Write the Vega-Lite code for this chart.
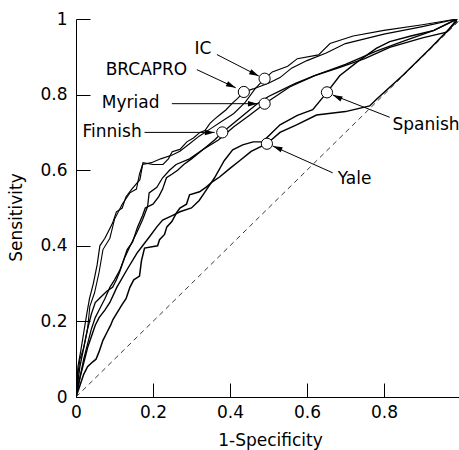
{
  "$schema": "https://vega.github.io/schema/vega-lite/v6.json",
  "width": 383,
  "height": 378,
  "autosize": "none",
  "padding": {"left": 76, "top": 19, "right": 0, "bottom": 53},
  "config": {
    "view": {"stroke": null},
    "font": "DejaVu Sans",
    "axis": {
      "domainColor": "black", "domainWidth": 1, "tickColor": "black", "tickWidth": 1, "tickSize": -14,
      "labelFont": "DejaVu Sans", "labelFontSize": 17, "labelColor": "black",
      "titleFont": "DejaVu Sans", "titleFontSize": 17, "titleFontWeight": "normal", "titleColor": "black",
      "grid": false
    }
  },
  "datasets": {
    "curves": [
      {"m":"IC","x":0,"y":0},{"m":"IC","x":0.005,"y":0.06},{"m":"IC","x":0.01,"y":0.1},{"m":"IC","x":0.02,"y":0.13},{"m":"IC","x":0.03,"y":0.18},{"m":"IC","x":0.036,"y":0.24},{"m":"IC","x":0.048,"y":0.275},{"m":"IC","x":0.06,"y":0.33},{"m":"IC","x":0.07,"y":0.39},{"m":"IC","x":0.088,"y":0.42},{"m":"IC","x":0.1,"y":0.47},{"m":"IC","x":0.12,"y":0.51},{"m":"IC","x":0.14,"y":0.54},{"m":"IC","x":0.157,"y":0.55},{"m":"IC","x":0.165,"y":0.59},{"m":"IC","x":0.173,"y":0.615},{"m":"IC","x":0.196,"y":0.62},{"m":"IC","x":0.22,"y":0.63},{"m":"IC","x":0.25,"y":0.64},{"m":"IC","x":0.27,"y":0.65},{"m":"IC","x":0.295,"y":0.67},{"m":"IC","x":0.32,"y":0.69},{"m":"IC","x":0.35,"y":0.71},{"m":"IC","x":0.38,"y":0.73},{"m":"IC","x":0.41,"y":0.75},{"m":"IC","x":0.44,"y":0.78},{"m":"IC","x":0.465,"y":0.815},{"m":"IC","x":0.49,"y":0.842},{"m":"IC","x":0.51,"y":0.86},{"m":"IC","x":0.55,"y":0.875},{"m":"IC","x":0.575,"y":0.895},{"m":"IC","x":0.63,"y":0.905},{"m":"IC","x":0.66,"y":0.935},{"m":"IC","x":0.72,"y":0.955},{"m":"IC","x":0.8,"y":0.97},{"m":"IC","x":0.9,"y":0.985},{"m":"IC","x":0.99,"y":1},
      {"m":"BRCAPRO","x":0,"y":0},{"m":"BRCAPRO","x":0.005,"y":0.08},{"m":"BRCAPRO","x":0.012,"y":0.12},{"m":"BRCAPRO","x":0.02,"y":0.17},{"m":"BRCAPRO","x":0.028,"y":0.22},{"m":"BRCAPRO","x":0.035,"y":0.26},{"m":"BRCAPRO","x":0.045,"y":0.3},{"m":"BRCAPRO","x":0.055,"y":0.35},{"m":"BRCAPRO","x":0.062,"y":0.4},{"m":"BRCAPRO","x":0.075,"y":0.42},{"m":"BRCAPRO","x":0.085,"y":0.44},{"m":"BRCAPRO","x":0.095,"y":0.46},{"m":"BRCAPRO","x":0.105,"y":0.49},{"m":"BRCAPRO","x":0.12,"y":0.5},{"m":"BRCAPRO","x":0.13,"y":0.53},{"m":"BRCAPRO","x":0.145,"y":0.55},{"m":"BRCAPRO","x":0.166,"y":0.575},{"m":"BRCAPRO","x":0.174,"y":0.62},{"m":"BRCAPRO","x":0.2,"y":0.615},{"m":"BRCAPRO","x":0.226,"y":0.615},{"m":"BRCAPRO","x":0.24,"y":0.63},{"m":"BRCAPRO","x":0.25,"y":0.649},{"m":"BRCAPRO","x":0.27,"y":0.655},{"m":"BRCAPRO","x":0.288,"y":0.675},{"m":"BRCAPRO","x":0.305,"y":0.685},{"m":"BRCAPRO","x":0.322,"y":0.7},{"m":"BRCAPRO","x":0.335,"y":0.705},{"m":"BRCAPRO","x":0.348,"y":0.724},{"m":"BRCAPRO","x":0.36,"y":0.735},{"m":"BRCAPRO","x":0.373,"y":0.746},{"m":"BRCAPRO","x":0.39,"y":0.76},{"m":"BRCAPRO","x":0.407,"y":0.778},{"m":"BRCAPRO","x":0.42,"y":0.79},{"m":"BRCAPRO","x":0.436,"y":0.807},{"m":"BRCAPRO","x":0.46,"y":0.815},{"m":"BRCAPRO","x":0.5,"y":0.83},{"m":"BRCAPRO","x":0.53,"y":0.845},{"m":"BRCAPRO","x":0.56,"y":0.87},{"m":"BRCAPRO","x":0.6,"y":0.89},{"m":"BRCAPRO","x":0.65,"y":0.91},{"m":"BRCAPRO","x":0.7,"y":0.935},{"m":"BRCAPRO","x":0.8,"y":0.96},{"m":"BRCAPRO","x":0.9,"y":0.98},{"m":"BRCAPRO","x":0.99,"y":1},
      {"m":"Myriad","x":0,"y":0},{"m":"Myriad","x":0.01,"y":0.05},{"m":"Myriad","x":0.02,"y":0.1},{"m":"Myriad","x":0.03,"y":0.14},{"m":"Myriad","x":0.04,"y":0.18},{"m":"Myriad","x":0.05,"y":0.21},{"m":"Myriad","x":0.06,"y":0.23},{"m":"Myriad","x":0.075,"y":0.26},{"m":"Myriad","x":0.088,"y":0.29},{"m":"Myriad","x":0.1,"y":0.31},{"m":"Myriad","x":0.114,"y":0.336},{"m":"Myriad","x":0.127,"y":0.37},{"m":"Myriad","x":0.14,"y":0.398},{"m":"Myriad","x":0.158,"y":0.435},{"m":"Myriad","x":0.173,"y":0.469},{"m":"Myriad","x":0.186,"y":0.504},{"m":"Myriad","x":0.19,"y":0.54},{"m":"Myriad","x":0.21,"y":0.555},{"m":"Myriad","x":0.225,"y":0.58},{"m":"Myriad","x":0.243,"y":0.6},{"m":"Myriad","x":0.26,"y":0.615},{"m":"Myriad","x":0.295,"y":0.63},{"m":"Myriad","x":0.33,"y":0.655},{"m":"Myriad","x":0.37,"y":0.68},{"m":"Myriad","x":0.41,"y":0.715},{"m":"Myriad","x":0.45,"y":0.745},{"m":"Myriad","x":0.49,"y":0.776},{"m":"Myriad","x":0.555,"y":0.82},{"m":"Myriad","x":0.62,"y":0.85},{"m":"Myriad","x":0.7,"y":0.88},{"m":"Myriad","x":0.78,"y":0.915},{"m":"Myriad","x":0.86,"y":0.945},{"m":"Myriad","x":0.93,"y":0.97},{"m":"Myriad","x":0.99,"y":1},
      {"m":"Finnish","x":0,"y":0},{"m":"Finnish","x":0.005,"y":0.04},{"m":"Finnish","x":0.01,"y":0.08},{"m":"Finnish","x":0.02,"y":0.13},{"m":"Finnish","x":0.03,"y":0.18},{"m":"Finnish","x":0.04,"y":0.22},{"m":"Finnish","x":0.05,"y":0.25},{"m":"Finnish","x":0.06,"y":0.26},{"m":"Finnish","x":0.07,"y":0.27},{"m":"Finnish","x":0.08,"y":0.28},{"m":"Finnish","x":0.095,"y":0.29},{"m":"Finnish","x":0.105,"y":0.31},{"m":"Finnish","x":0.113,"y":0.33},{"m":"Finnish","x":0.123,"y":0.36},{"m":"Finnish","x":0.133,"y":0.39},{"m":"Finnish","x":0.147,"y":0.41},{"m":"Finnish","x":0.16,"y":0.45},{"m":"Finnish","x":0.173,"y":0.48},{"m":"Finnish","x":0.18,"y":0.5},{"m":"Finnish","x":0.2,"y":0.51},{"m":"Finnish","x":0.215,"y":0.53},{"m":"Finnish","x":0.225,"y":0.55},{"m":"Finnish","x":0.235,"y":0.58},{"m":"Finnish","x":0.25,"y":0.59},{"m":"Finnish","x":0.264,"y":0.6},{"m":"Finnish","x":0.28,"y":0.615},{"m":"Finnish","x":0.3,"y":0.63},{"m":"Finnish","x":0.33,"y":0.655},{"m":"Finnish","x":0.36,"y":0.68},{"m":"Finnish","x":0.38,"y":0.7},{"m":"Finnish","x":0.41,"y":0.725},{"m":"Finnish","x":0.44,"y":0.75},{"m":"Finnish","x":0.47,"y":0.775},{"m":"Finnish","x":0.5,"y":0.795},{"m":"Finnish","x":0.53,"y":0.81},{"m":"Finnish","x":0.57,"y":0.83},{"m":"Finnish","x":0.62,"y":0.85},{"m":"Finnish","x":0.68,"y":0.87},{"m":"Finnish","x":0.75,"y":0.895},{"m":"Finnish","x":0.815,"y":0.925},{"m":"Finnish","x":0.9,"y":0.95},{"m":"Finnish","x":0.963,"y":0.965},{"m":"Finnish","x":0.99,"y":1},
      {"m":"Spanish","x":0,"y":0},{"m":"Spanish","x":0.01,"y":0.05},{"m":"Spanish","x":0.02,"y":0.09},{"m":"Spanish","x":0.03,"y":0.13},{"m":"Spanish","x":0.04,"y":0.16},{"m":"Spanish","x":0.05,"y":0.19},{"m":"Spanish","x":0.06,"y":0.21},{"m":"Spanish","x":0.075,"y":0.23},{"m":"Spanish","x":0.088,"y":0.25},{"m":"Spanish","x":0.106,"y":0.29},{"m":"Spanish","x":0.132,"y":0.336},{"m":"Spanish","x":0.158,"y":0.38},{"m":"Spanish","x":0.173,"y":0.4},{"m":"Spanish","x":0.191,"y":0.424},{"m":"Spanish","x":0.21,"y":0.45},{"m":"Spanish","x":0.225,"y":0.468},{"m":"Spanish","x":0.25,"y":0.48},{"m":"Spanish","x":0.27,"y":0.49},{"m":"Spanish","x":0.3,"y":0.5},{"m":"Spanish","x":0.32,"y":0.52},{"m":"Spanish","x":0.34,"y":0.55},{"m":"Spanish","x":0.36,"y":0.58},{"m":"Spanish","x":0.385,"y":0.625},{"m":"Spanish","x":0.407,"y":0.654},{"m":"Spanish","x":0.433,"y":0.667},{"m":"Spanish","x":0.46,"y":0.675},{"m":"Spanish","x":0.485,"y":0.675},{"m":"Spanish","x":0.53,"y":0.72},{"m":"Spanish","x":0.575,"y":0.745},{"m":"Spanish","x":0.615,"y":0.76},{"m":"Spanish","x":0.652,"y":0.806},{"m":"Spanish","x":0.685,"y":0.85},{"m":"Spanish","x":0.73,"y":0.886},{"m":"Spanish","x":0.78,"y":0.922},{"m":"Spanish","x":0.815,"y":0.94},{"m":"Spanish","x":0.87,"y":0.955},{"m":"Spanish","x":0.93,"y":0.97},{"m":"Spanish","x":0.99,"y":1},
      {"m":"Yale","x":0,"y":0},{"m":"Yale","x":0.01,"y":0.03},{"m":"Yale","x":0.02,"y":0.06},{"m":"Yale","x":0.03,"y":0.08},{"m":"Yale","x":0.04,"y":0.09},{"m":"Yale","x":0.052,"y":0.1},{"m":"Yale","x":0.06,"y":0.12},{"m":"Yale","x":0.07,"y":0.15},{"m":"Yale","x":0.08,"y":0.17},{"m":"Yale","x":0.09,"y":0.19},{"m":"Yale","x":0.096,"y":0.205},{"m":"Yale","x":0.105,"y":0.22},{"m":"Yale","x":0.12,"y":0.245},{"m":"Yale","x":0.13,"y":0.26},{"m":"Yale","x":0.14,"y":0.29},{"m":"Yale","x":0.15,"y":0.31},{"m":"Yale","x":0.165,"y":0.32},{"m":"Yale","x":0.17,"y":0.36},{"m":"Yale","x":0.178,"y":0.394},{"m":"Yale","x":0.212,"y":0.4},{"m":"Yale","x":0.217,"y":0.416},{"m":"Yale","x":0.23,"y":0.43},{"m":"Yale","x":0.236,"y":0.45},{"m":"Yale","x":0.249,"y":0.464},{"m":"Yale","x":0.261,"y":0.487},{"m":"Yale","x":0.27,"y":0.5},{"m":"Yale","x":0.287,"y":0.51},{"m":"Yale","x":0.295,"y":0.535},{"m":"Yale","x":0.321,"y":0.543},{"m":"Yale","x":0.339,"y":0.556},{"m":"Yale","x":0.355,"y":0.57},{"m":"Yale","x":0.373,"y":0.582},{"m":"Yale","x":0.4,"y":0.605},{"m":"Yale","x":0.425,"y":0.625},{"m":"Yale","x":0.455,"y":0.65},{"m":"Yale","x":0.496,"y":0.67},{"m":"Yale","x":0.53,"y":0.7},{"m":"Yale","x":0.573,"y":0.72},{"m":"Yale","x":0.625,"y":0.746},{"m":"Yale","x":0.7,"y":0.755},{"m":"Yale","x":0.763,"y":0.77},{"m":"Yale","x":0.78,"y":0.787},{"m":"Yale","x":0.85,"y":0.852},{"m":"Yale","x":0.92,"y":0.922},{"m":"Yale","x":0.99,"y":0.995}
    ],
    "diag": [{"x":0,"y":0},{"x":1,"y":1}],
    "circles": [
      {"m":"IC","x":0.49,"y":0.842},{"m":"BRCAPRO","x":0.436,"y":0.807},{"m":"Myriad","x":0.49,"y":0.776},
      {"m":"Finnish","x":0.38,"y":0.7},{"m":"Spanish","x":0.652,"y":0.806},{"m":"Yale","x":0.496,"y":0.67}
    ],
    "arrows": [
      {"m":"IC","x":0.366,"y":0.906,"x2":0.475,"y2":0.849,"dir":26},
      {"m":"BRCAPRO","x":0.314,"y":0.866,"x2":0.415,"y2":0.818,"dir":25},
      {"m":"Myriad","x":0.249,"y":0.776,"x2":0.472,"y2":0.776,"dir":0},
      {"m":"Finnish","x":0.178,"y":0.7,"x2":0.36,"y2":0.7,"dir":0},
      {"m":"Spanish","x":0.815,"y":0.74,"x2":0.667,"y2":0.799,"dir":205},
      {"m":"Yale","x":0.667,"y":0.593,"x2":0.511,"y2":0.664,"dir":202}
    ],
    "labels": [
      {"t":"IC","x":0.308,"y":0.921},{"t":"BRCAPRO","x":0.077,"y":0.866},{"t":"Myriad","x":0.067,"y":0.778},
      {"t":"Finnish","x":0.017,"y":0.702},{"t":"Spanish","x":0.822,"y":0.72},{"t":"Yale","x":0.68,"y":0.578}
    ]
  },
  "encoding": {
    "x": {
      "field": "x", "type": "quantitative",
      "scale": {"domain": [0, 0.995], "nice": false, "zero": false},
      "axis": {"values": [0, 0.2, 0.4, 0.6, 0.8], "format": "~g", "labelPadding": 21, "labelFlush": false,
               "title": "1-Specificity", "titleX": 194, "titleY": 48, "titleBaseline": "alphabetic", "titleAlign": "center"}
    },
    "y": {
      "field": "y", "type": "quantitative",
      "scale": {"domain": [0, 1], "nice": false, "zero": false},
      "axis": {"values": [0, 0.2, 0.4, 0.6, 0.8, 1], "format": "~g", "labelPadding": 23, "labelFlush": false,
               "title": "Sensitivity", "titleX": -60, "titleY": 198, "titleAngle": -90, "titleBaseline": "middle", "titleAlign": "center"}
    }
  },
  "layer": [
    {
      "data": {"name": "diag"},
      "mark": {"type": "line", "color": "#222", "strokeWidth": 0.9, "strokeDash": [5, 4], "clip": true},
      "encoding": {}
    },
    {
      "data": {"name": "curves"},
      "mark": {"type": "line", "color": "black", "clip": true},
      "encoding": {
        "detail": {"field": "m", "type": "nominal"},
        "strokeWidth": {"field": "m", "type": "nominal",
          "scale": {"domain": ["IC","BRCAPRO","Myriad","Finnish","Spanish","Yale"], "range": [1.1, 1.5, 1.8, 1.1, 1.1, 1.8]},
          "legend": null}
      }
    },
    {
      "data": {"name": "arrows"},
      "mark": {"type": "rule", "color": "black", "strokeWidth": 1},
      "encoding": {"x2": {"field": "x2"}, "y2": {"field": "y2"}}
    },
    {
      "data": {"name": "arrows"},
      "mark": {"type": "point", "shape": "M0,0L-1,-0.28L-1,0.28Z", "filled": true, "color": "black", "opacity": 1, "size": 380},
      "encoding": {
        "x": {"field": "x2", "type": "quantitative"},
        "y": {"field": "y2", "type": "quantitative"},
        "angle": {"field": "dir", "type": "quantitative", "scale": null}
      }
    },
    {
      "data": {"name": "circles"},
      "mark": {"type": "point", "shape": "circle", "filled": true, "fill": "white", "stroke": "black", "strokeWidth": 1, "opacity": 1, "size": 125}
    },
    {
      "data": {"name": "labels"},
      "mark": {"type": "text", "font": "DejaVu Sans", "fontSize": 17, "align": "left", "baseline": "middle", "color": "black"},
      "encoding": {"text": {"field": "t", "type": "nominal"}}
    }
  ]
}
